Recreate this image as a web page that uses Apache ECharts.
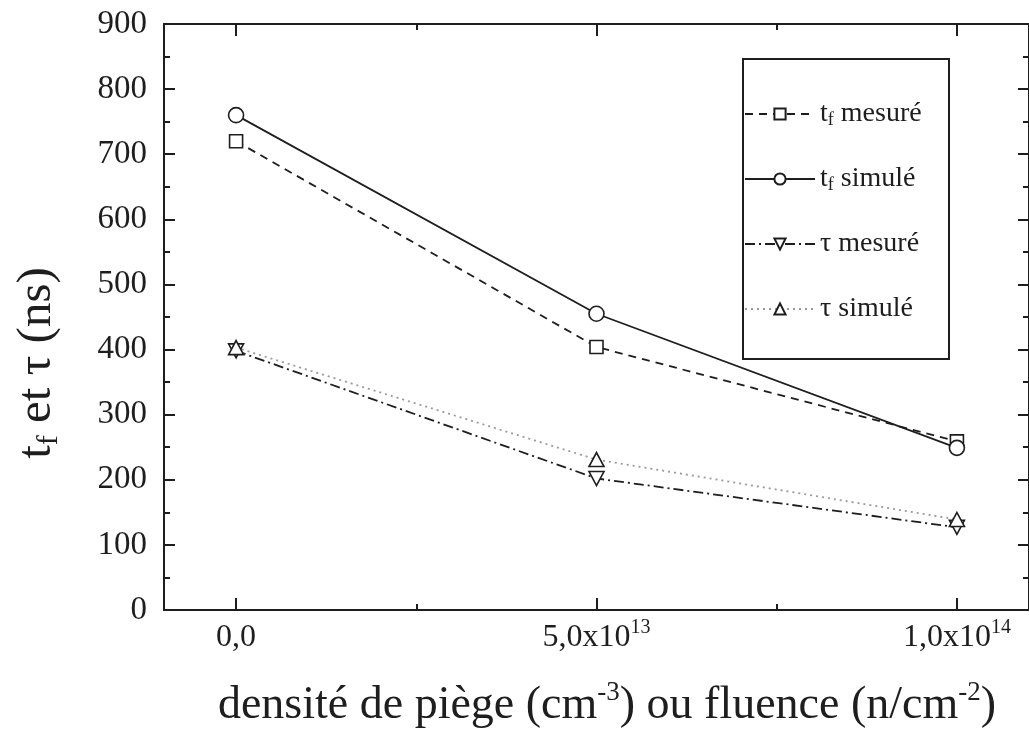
<!DOCTYPE html>
<html>
<head>
<meta charset="utf-8">
<script src="https://cdn.jsdelivr.net/npm/echarts@6/dist/echarts.min.js"></script>
<style>
html,body{margin:0;padding:0;background:#fff;}
#chart{width:1029px;height:740px;}
</style>
</head>
<body>
<div id="chart"></div>
<script>
// ---- data ----
const xValues = [0, 5e13, 1e14];
const tfMesure = [720, 404, 259];
const tfSimule = [760, 455, 249];
const tauMesure = [398, 202, 127];
const tauSimule = [403, 231, 139];
const seriesNames = ['t{sub|f} mesuré', 't{sub|f} simulé', 'τ mesuré', 'τ simulé'];
const xMajorTicks = [0, 5e13, 1e14];
const xMinorTicks = [2.5e13, 7.5e13];
const xTickLabels = ['0,0', '5,0x10{sup|13}', '1,0x10{sup|14}'];
const xTitle = 'densité de piège (cm{sup|-3}) ou fluence (n/cm{sup|-2})';
const yTitle = 't{sub|f} et τ (ns)';

const FONT = 'Liberation Serif';
const INK = '#1e1e1e';

function pts(ys) { return xValues.map((x, i) => [x, ys[i]]); }

const chart = echarts.init(document.getElementById('chart'), null, {renderer: 'canvas'});

const mkXAxis = (pos, ticks, len, labels) => ({
  type: 'value', position: pos, min: -1e13, max: 1.1e14,
  axisLine: {show: true, onZero: false, lineStyle: {color: INK, width: 2}},
  splitLine: {show: false},
  axisTick: {show: true, inside: true, length: len, customValues: ticks, lineStyle: {color: INK, width: 2}},
  axisLabel: labels ? {
    show: true, customValues: xMajorTicks, margin: 8,
    fontFamily: FONT, fontSize: 32, color: INK, lineHeight: 40,
    formatter: function (v) { return xTickLabels[xMajorTicks.indexOf(v)]; },
    rich: {sup: {fontFamily: FONT, fontSize: 20, lineHeight: 22, verticalAlign: 'top', color: INK}}
  } : {show: false}
});

const mkYAxis = (pos, labels) => ({
  type: 'value', position: pos, min: 0, max: 900, interval: 100,
  axisLine: {show: true, onZero: false, lineStyle: {color: INK, width: 2}},
  splitLine: {show: false},
  axisTick: {show: true, inside: true, length: 11, lineStyle: {color: INK, width: 2}},
  minorTick: {show: true, splitNumber: 2, length: 6, lineStyle: {color: INK, width: 2}},
  minorSplitLine: {show: false},
  axisLabel: labels ? {show: true, margin: 17, fontFamily: FONT, fontSize: 33, color: INK} : {show: false}
});

const symStyle = {color: '#fff', borderColor: INK, borderWidth: 1.6};
const triDown = 'path://M0,0 L12,0 L6,11 Z';

const option = {
  animation: false,
  backgroundColor: '#fff',
  grid: {left: 164, right: -2, top: 24, bottom: 130, containLabel: false},
  xAxis: [
    mkXAxis('bottom', xMajorTicks, 12, true),
    mkXAxis('bottom', xMinorTicks, 6, false),
    mkXAxis('top', xMajorTicks, 12, false),
    mkXAxis('top', xMinorTicks, 6, false)
  ],
  yAxis: [mkYAxis('left', true), mkYAxis('right', false)],
  legend: {
    orient: 'vertical', left: 744, top: 99, padding: 0,
    itemWidth: 70, itemHeight: 14, itemGap: 35,
    data: seriesNames,
    textStyle: {
      fontFamily: FONT, fontSize: 28, color: INK, lineHeight: 30,
      rich: {sub: {fontFamily: FONT, fontSize: 18, lineHeight: 18, verticalAlign: 'bottom', color: INK}}
    }
  },
  series: [
    {name: seriesNames[0], type: 'line', data: pts(tfMesure), symbol: 'rect', symbolSize: 13,
     itemStyle: symStyle, lineStyle: {color: INK, width: 1.8, type: [8, 6]}},
    {name: seriesNames[1], type: 'line', data: pts(tfSimule), symbol: 'circle', symbolSize: 15,
     itemStyle: symStyle, lineStyle: {color: INK, width: 1.8, type: 'solid'}},
    {name: seriesNames[2], type: 'line', data: pts(tauMesure), symbol: triDown, symbolSize: [15, 14],
     itemStyle: symStyle, lineStyle: {color: INK, width: 1.8, type: [10, 4, 2, 4]}},
    {name: seriesNames[3], type: 'line', data: pts(tauSimule), symbol: 'triangle', symbolSize: [15, 14],
     itemStyle: symStyle, lineStyle: {color: '#9a9a9a', width: 1.8, type: [2, 4]}}
  ],
  graphic: [
    {type: 'rect', shape: {x: 743, y: 59, width: 206, height: 300}, z: 0,
     style: {fill: 'none', stroke: INK, lineWidth: 2}},
    {type: 'text', x: 607, y: 706,
     style: {text: xTitle, fontFamily: FONT, fontSize: 46, fill: INK, align: 'center', verticalAlign: 'middle', lineHeight: 54,
       rich: {sup: {fontFamily: FONT, fontSize: 27, lineHeight: 27, verticalAlign: 'top', fill: INK}}}},
    {type: 'text', x: 37, y: 363, rotation: Math.PI / 2,
     style: {text: yTitle, fontFamily: FONT, fontSize: 49, fill: INK, align: 'center', verticalAlign: 'middle', lineHeight: 54,
       rich: {sub: {fontFamily: FONT, fontSize: 30, lineHeight: 30, verticalAlign: 'bottom', fill: INK}}}}
  ]
};
chart.setOption(option);
</script>
</body>
</html>
